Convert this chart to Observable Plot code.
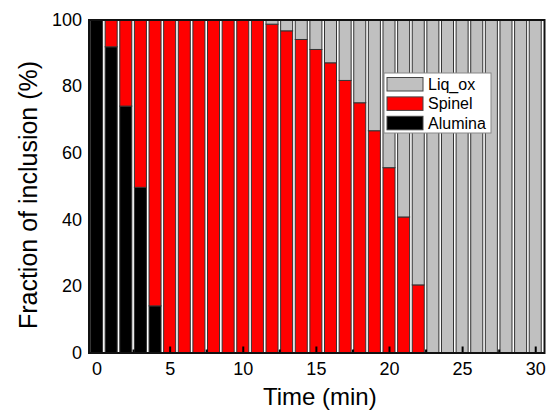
<!DOCTYPE html>
<html>
<head>
<meta charset="utf-8">
<script src="https://cdn.jsdelivr.net/npm/d3@7"></script>
<script src="https://cdn.jsdelivr.net/npm/@observablehq/plot@0.6"></script>
<style>
  html, body { margin: 0; padding: 0; background: #fff; }
  #chart { width: 556px; height: 411px; }
</style>
</head>
<body>
<div id="chart"></div>
<script>
// Inclusion phase fractions (%) sampled every minute
const times = [0, 1, 2, 3, 4, 5, 6, 7, 8, 9, 10, 11, 12, 13, 14, 15,
               16, 17, 18, 19, 20, 21, 22, 23, 24, 25, 26, 27, 28, 29, 30];
const alumina = [100, 91.8, 74.0, 49.6, 14.0, 0, 0, 0, 0, 0, 0, 0, 0, 0, 0, 0,
                 0, 0, 0, 0, 0, 0, 0, 0, 0, 0, 0, 0, 0, 0, 0];
const spinel = [0, 8.2, 26.0, 50.4, 86.0, 100, 100, 100, 100, 100, 100, 100, 98.6, 96.6, 94.0, 91.0,
                87.0, 81.7, 75.0, 66.6, 55.5, 40.7, 20.3, 0, 0, 0, 0, 0, 0, 0, 0];
const liqOx = [0, 0, 0, 0, 0, 0, 0, 0, 0, 0, 0, 0, 1.4, 3.4, 6.0, 9.0,
               13.0, 18.3, 25.0, 33.4, 44.5, 59.3, 79.7, 100, 100, 100, 100, 100, 100, 100, 100];

// Stacking order bottom to top, and legend order top to bottom
const phases = ["Alumina", "Spinel", "Liq_ox"];
const phaseColors = ["#000000", "#ff0000", "#c0c0c0"];
const legendOrder = ["Liq_ox", "Spinel", "Alumina"];

const xTicks = [0, 5, 10, 15, 20, 25, 30];
const xMinorTicks = [2.5, 7.5, 12.5, 17.5, 22.5, 27.5];
const yTicks = [0, 20, 40, 60, 80, 100];

const series = {Alumina: alumina, Spinel: spinel, Liq_ox: liqOx};
const rows = [];
times.forEach((t, i) => {
  for (const p of phases) {
    const v = series[p][i];
    if (v > 0) rows.push({time: t, phase: p, value: v});
  }
});

const W = 556, H = 411;
const mTop = 19.5, mBottom = 58.5, mLeft = 88.5, mRight = 12;
const innerH = H - mTop - mBottom;
const font = "'Liberation Sans', Arial, sans-serif";

const chart = Plot.plot({
  width: W,
  height: H,
  marginTop: mTop,
  marginBottom: mBottom,
  marginLeft: mLeft,
  marginRight: mRight,
  style: {fontFamily: font, fontSize: "18px", background: "#fff", color: "#000"},
  x: {domain: [-0.55, 30.6]},
  y: {domain: [0, 100]},
  color: {domain: phases, range: phaseColors},
  marks: [
    Plot.rectY(rows, {
      x1: d => d.time - 0.5,
      x2: d => d.time + 0.5,
      y: "value",
      fill: "phase",
      z: "phase",
      insetLeft: 1.3,
      insetRight: 1.3,
      stroke: "#333",
      strokeWidth: 1
    }),
    Plot.tickX(xTicks, {x: d => d, insetTop: innerH - 6, stroke: "#000", strokeWidth: 2}),
    Plot.tickX(xMinorTicks, {x: d => d, insetTop: innerH - 3, stroke: "#000", strokeWidth: 2}),
    Plot.axisX({ticks: xTicks, tickSize: 0, tickPadding: 9, label: null}),
    Plot.axisY({ticks: yTicks, tickSize: 0, tickPadding: 7, label: null}),
    Plot.frame({stroke: "#111", strokeWidth: 2}),
    Plot.text(["Time (min)"], {
      text: d => d, frameAnchor: "bottom", textAnchor: "middle", lineAnchor: "middle",
      dx: 3, dy: 44, fontSize: 24
    }),
    Plot.text(["Fraction of inclusion (%)"], {
      text: d => d, frameAnchor: "left", textAnchor: "middle", lineAnchor: "middle",
      rotate: -90, dx: -60, dy: 8.5, fontSize: 25
    })
  ]
});

// Legend box inside the plot area
const svg = d3.select(chart);
const lg = svg.append("g").attr("transform", "translate(384,73)");
lg.append("rect")
  .attr("width", 107).attr("height", 60)
  .style("fill", "#fff").style("stroke", "#888").style("stroke-width", 1);
legendOrder.forEach((name, i) => {
  const color = phaseColors[phases.indexOf(name)];
  const row = lg.append("g").attr("transform", `translate(0,${4.5 + i * 19.4})`);
  row.append("rect")
    .attr("x", 3).attr("y", 0).attr("width", 36).attr("height", 13.5)
    .style("fill", color).style("stroke", "#444").style("stroke-width", 1);
  row.append("text")
    .attr("x", 44).attr("y", 12.5)
    .attr("text-anchor", "start")
    .style("font-size", "16px")
    .style("font-family", font)
    .style("fill", "#000")
    .text(name);
});

document.getElementById("chart").appendChild(chart);
</script>
</body>
</html>
